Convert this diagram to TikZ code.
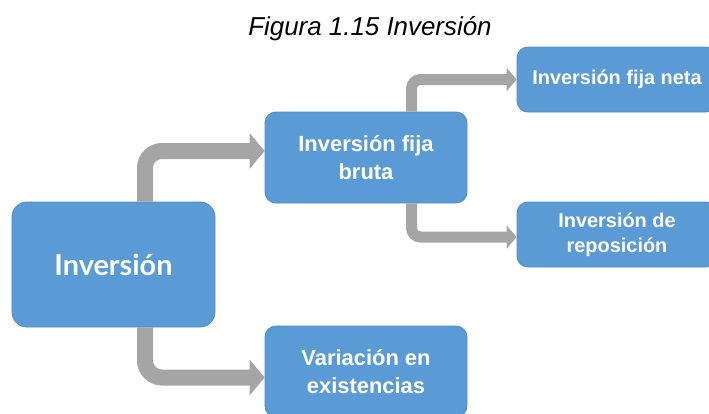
\documentclass[tikz,border=0pt]{standalone}
\usepackage{fontspec}
\setmainfont{Liberation Sans}
\newfontfamily\boldsans{Lato}
\usepackage{tikz}
\usetikzlibrary{arrows.meta,positioning,calc}
\definecolor{boxblue}{HTML}{5B9BD5}
\definecolor{boxline}{HTML}{4F8BC4}
\definecolor{flowgray}{HTML}{A5A5A5}

\begin{document}
\begin{tikzpicture}[x=1bp,y=-1bp,
    box/.style={draw=boxline, line width=0.8bp, fill=boxblue, text=white, align=center, inner sep=0pt, rounded corners=11bp},
    bigflow/.style={draw=flowgray, line width=16bp, rounded corners=17bp, -{Triangle[length=15bp,width=35bp]}},
    smallflow/.style={draw=flowgray, line width=11bp, rounded corners=9bp, -{Triangle[length=10bp,width=23bp]}}]
        \useasboundingbox (0,0) rectangle (709,413);
        \node[anchor=base, font=\fontsize{26}{30}\selectfont\itshape] (title) at (370,35) {Figura 1.15 Inversión};
        % boxes
        \node[box, rounded corners=15bp, minimum width=203bp, minimum height=125bp, font=\fontsize{29}{34}\selectfont\boldsans\bfseries] (inv) at (113.5,264.5) {Inversión};
        \node[box, minimum width=202bp, minimum height=91bp, font=\fontsize{22}{28}\selectfont\bfseries] (bruta) at (366,157.5) {Inversión fija\\ bruta};
        \node[box, minimum width=202bp, minimum height=91bp, font=\fontsize{22}{28}\selectfont\bfseries] (var) at (366,371.5) {Variación en\\ existencias};
        \node[box, minimum width=200bp, minimum height=65bp, font=\fontsize{20}{25}\selectfont\bfseries] (neta) at (617,79.5) {Inversión fija neta};
        \node[box, minimum width=200bp, minimum height=65bp, font=\fontsize{20}{25}\selectfont\bfseries] (repo) at (617,234.5) {Inversión de\\ reposición};
        % arrows
        \draw[bigflow] ([xshift=31.5bp]inv.north) |- ([yshift=6.5bp]bruta.west);
        \draw[bigflow] ([xshift=31.5bp]inv.south) |- ([yshift=-6bp]var.west);
        \draw[smallflow] ([xshift=45.5bp]bruta.north) |- (neta.west);
        \draw[smallflow] ([xshift=45.5bp]bruta.south) |- ([yshift=-2.5bp]repo.west);
\end{tikzpicture}
\end{document}
